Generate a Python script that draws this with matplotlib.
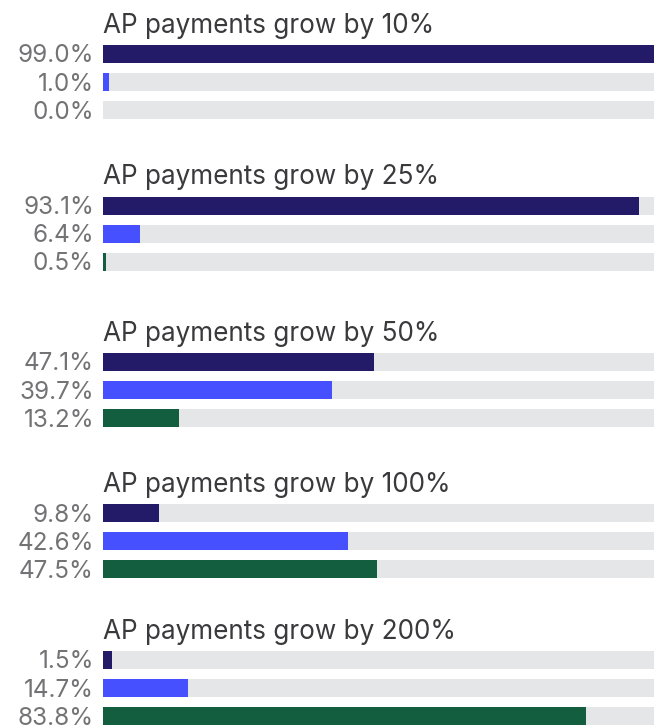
import matplotlib
matplotlib.use("Agg")
import matplotlib.pyplot as plt

plt.rcParams['font.family'] = ['Inter', 'DejaVu Sans']

# ---------------------------------------- #
#                   Data                   #
# ---------------------------------------- #
scenarios = ["AP payments grow by 10%", "AP payments grow by 25%",
             "AP payments grow by 50%", "AP payments grow by 100%",
             "AP payments grow by 200%"]
share_first = [99.0, 93.1, 47.1, 9.8, 1.5]
share_second = [1.0, 6.4, 39.7, 42.6, 14.7]
share_third = [0.0, 0.5, 13.2, 47.5, 83.8]

colors = ["#241b68", "#4650ff", "#125e3e"]
track_color = "#e5e6e8"
label_color = "#737376"
title_color = "#3a3a3d"

# layout in pixels (figure is 654 x 728 at dpi 100)
W, H = 654, 728
left_px = 103
px_per_pct = 5.76
group_first_row = [54, 205.5, 362, 513, 660]
row_step = 28.1
bar_h = 18
title_gap = 21

fig = plt.figure(figsize=(W / 100, H / 100), dpi=100)
ax = fig.add_axes([left_px / W, 0, 1 - left_px / W, 1])
ax.set_xlim(0, (W - left_px) / px_per_pct)
ax.set_ylim(H, 0)
ax.axis("off")

for g, title in enumerate(scenarios):
    values = [share_first[g], share_second[g], share_third[g]]
    y0 = group_first_row[g]
    ax.text(0, y0 - title_gap, title, ha="left", va="baseline",
            fontsize=18.8, color=title_color)
    for i, v in enumerate(values):
        y = y0 + i * row_step
        ax.barh(y, 100, height=bar_h, left=0, color=track_color, linewidth=0)
        ax.barh(y, v, height=bar_h, left=0, color=colors[i], linewidth=0)
        # value label sits on the bar's bottom edge
        ax.annotate(f"{v:.1f}%", xy=(0, y + bar_h / 2 - 0.5), xytext=(-9, 0),
                    textcoords="offset pixels", ha="right", va="baseline",
                    fontsize=17.5, color=label_color)

fig.savefig("out.png", dpi=100)
